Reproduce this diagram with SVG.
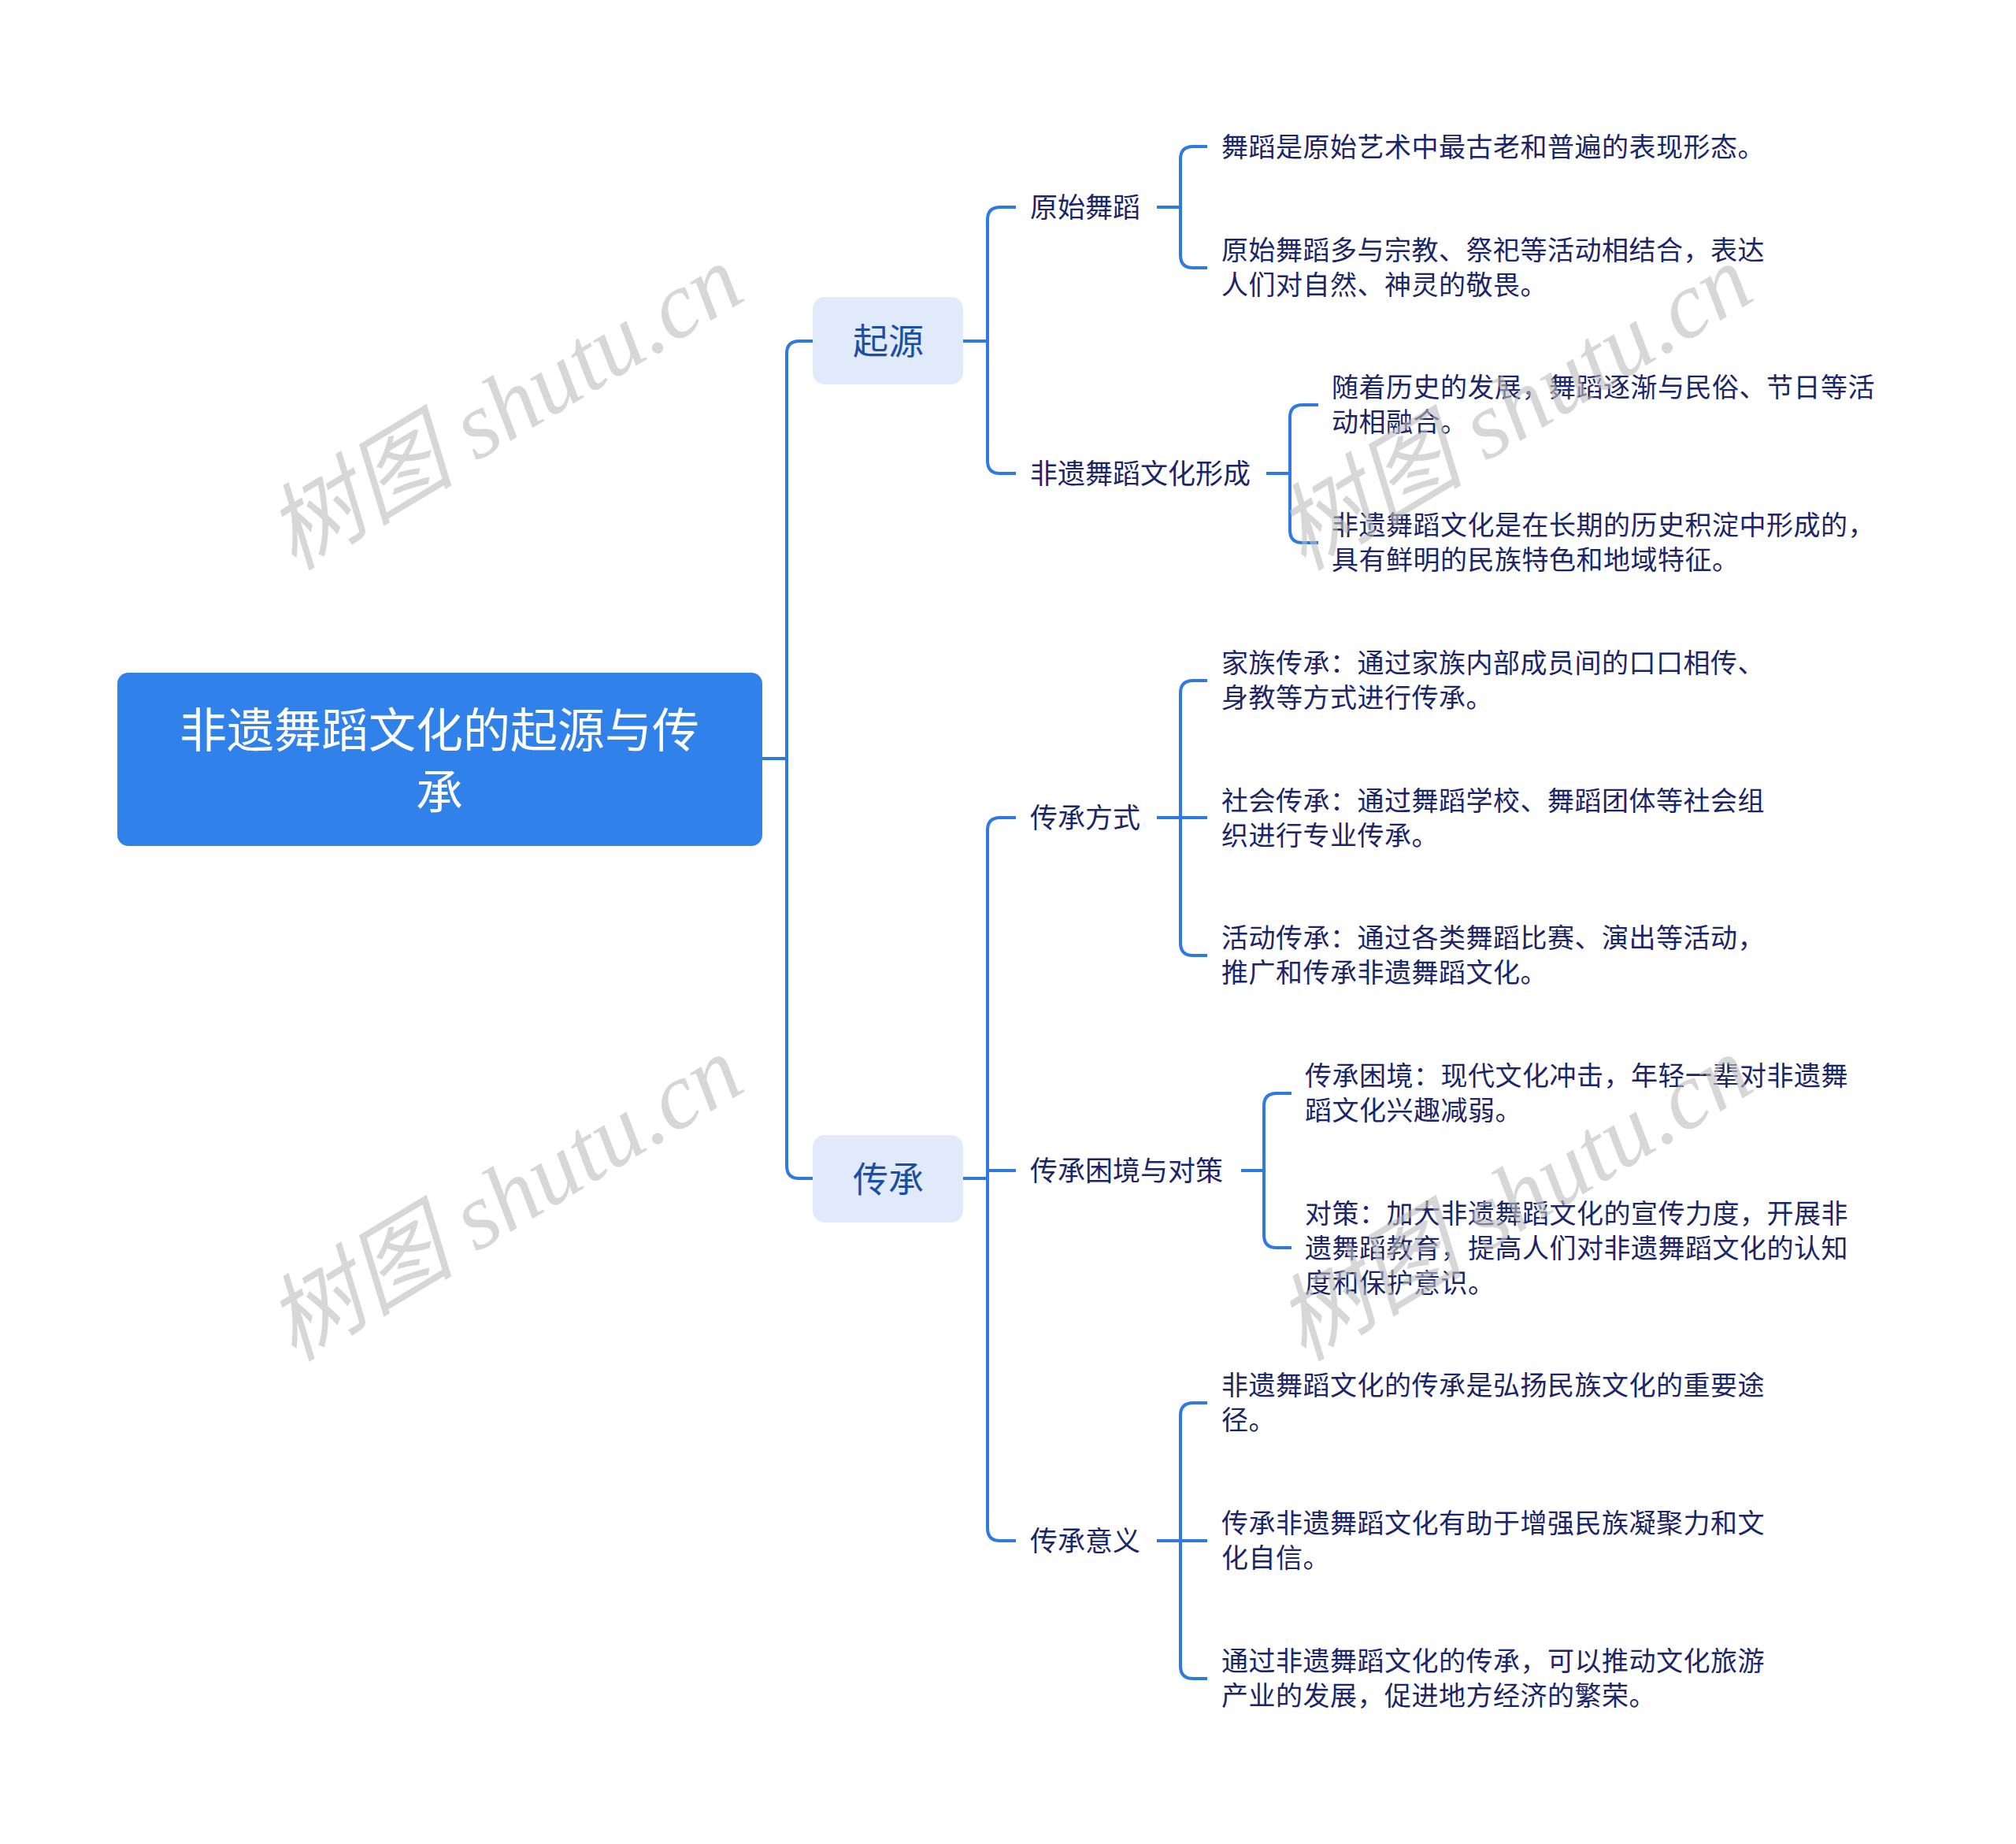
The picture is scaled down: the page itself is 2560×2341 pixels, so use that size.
<svg xmlns="http://www.w3.org/2000/svg" width="2560" height="2341" viewBox="0 0 2560 2341">
<style>
.bg{fill:#ffffff}
.root{fill:#3081ea}
.rt{fill:#ffffff;font-family:"Noto Sans CJK SC","Noto Sans",sans-serif;font-size:60px;text-anchor:middle}
.sub{fill:#e1eafb}
.st{fill:#1a4fa6;font-family:"Noto Sans CJK SC","Noto Sans",sans-serif;font-size:45px;text-anchor:middle}
.t2{fill:#1b2568;font-family:"Noto Sans CJK SC","Noto Sans",sans-serif;font-size:35px}
.t3{fill:#1b2568;font-family:"Noto Sans CJK SC","Noto Sans",sans-serif;font-size:34px;letter-spacing:0.5px}
.ln{fill:none;stroke:#2f7ae2;stroke-width:4;stroke-linecap:butt;stroke-linejoin:round}
.wm{fill:#bcbcbc;fill-opacity:0.6;font-family:"Liberation Serif","Noto Sans CJK SC",serif;font-style:italic;font-size:120px;text-anchor:middle}
</style>
<rect class="bg" x="0" y="0" width="2560" height="2341"/>

<g id="connectors">
  <path class="ln" d="M968 963 H999"/>
  <path class="ln" d="M1032 433 H1015 Q999 433 999 449 V1480 Q999 1496 1015 1496 H1032"/>
  <path class="ln" d="M1223 433 H1254"/>
  <path class="ln" d="M1290 263 H1270 Q1254 263 1254 279 V585 Q1254 601 1270 601 H1290"/>
  <path class="ln" d="M1469 263 H1499"/>
  <path class="ln" d="M1533 186 H1515 Q1499 186 1499 202 V324 Q1499 340 1515 340 H1533"/>
  <path class="ln" d="M1608 601 H1638"/>
  <path class="ln" d="M1674 514 H1654 Q1638 514 1638 530 V673 Q1638 689 1654 689 H1674"/>
  <path class="ln" d="M1223 1496 H1254"/>
  <path class="ln" d="M1290 1038 H1270 Q1254 1038 1254 1054 V1940 Q1254 1956 1270 1956 H1290"/>
  <path class="ln" d="M1254 1486 H1290"/>
  <path class="ln" d="M1469 1038 H1533"/>
  <path class="ln" d="M1533 864 H1515 Q1499 864 1499 880 V1197 Q1499 1213 1515 1213 H1533"/>
  <path class="ln" d="M1576 1486 H1605"/>
  <path class="ln" d="M1640 1388 H1621 Q1605 1388 1605 1404 V1568 Q1605 1584 1621 1584 H1640"/>
  <path class="ln" d="M1469 1956 H1533"/>
  <path class="ln" d="M1533 1781 H1515 Q1499 1781 1499 1797 V2115 Q1499 2131 1515 2131 H1533"/>
</g>

<g id="root">
  <rect class="root" x="149" y="854" width="819" height="220" rx="14"/>
  <text class="rt" x="558" y="949">非遗舞蹈文化的起源与传</text>
  <text class="rt" x="558" y="1027">承</text>
</g>

<g id="n-qiyuan">
  <rect class="sub" x="1032" y="377" width="191" height="111" rx="15"/>
  <text class="st" x="1128" y="450">起源</text>
</g>
<g id="n-chuancheng">
  <rect class="sub" x="1032" y="1441" width="191" height="111" rx="15"/>
  <text class="st" x="1128" y="1514">传承</text>
</g>

<g id="n-yuanshi"><text class="t2" x="1308" y="276">原始舞蹈</text></g>
<g id="n-xingcheng"><text class="t2" x="1308" y="614">非遗舞蹈文化形成</text></g>
<g id="n-fangshi"><text class="t2" x="1308" y="1051">传承方式</text></g>
<g id="n-kunjing"><text class="t2" x="1308" y="1499">传承困境与对策</text></g>
<g id="n-yiyi"><text class="t2" x="1308" y="1969">传承意义</text></g>

<g id="l1"><text class="t3" x="1551" y="199">舞蹈是原始艺术中最古老和普遍的表现形态。</text></g>
<g id="l2"><text class="t3" x="1551" y="330">原始舞蹈多与宗教、祭祀等活动相结合，表达</text><text class="t3" x="1551" y="374">人们对自然、神灵的敬畏。</text></g>
<g id="l3"><text class="t3" x="1691" y="504">随着历史的发展，舞蹈逐渐与民俗、节日等活</text><text class="t3" x="1691" y="548">动相融合。</text></g>
<g id="l4"><text class="t3" x="1691" y="679">非遗舞蹈文化是在长期的历史积淀中形成的，</text><text class="t3" x="1691" y="723">具有鲜明的民族特色和地域特征。</text></g>
<g id="l5"><text class="t3" x="1551" y="854">家族传承：通过家族内部成员间的口口相传、</text><text class="t3" x="1551" y="898">身教等方式进行传承。</text></g>
<g id="l6"><text class="t3" x="1551" y="1029">社会传承：通过舞蹈学校、舞蹈团体等社会组</text><text class="t3" x="1551" y="1073">织进行专业传承。</text></g>
<g id="l7"><text class="t3" x="1551" y="1203">活动传承：通过各类舞蹈比赛、演出等活动，</text><text class="t3" x="1551" y="1247">推广和传承非遗舞蹈文化。</text></g>
<g id="l8"><text class="t3" x="1657" y="1378">传承困境：现代文化冲击，年轻一辈对非遗舞</text><text class="t3" x="1657" y="1422">蹈文化兴趣减弱。</text></g>
<g id="l9"><text class="t3" x="1657" y="1553">对策：加大非遗舞蹈文化的宣传力度，开展非</text><text class="t3" x="1657" y="1597">遗舞蹈教育，提高人们对非遗舞蹈文化的认知</text><text class="t3" x="1657" y="1641">度和保护意识。</text></g>
<g id="l10"><text class="t3" x="1551" y="1771">非遗舞蹈文化的传承是弘扬民族文化的重要途</text><text class="t3" x="1551" y="1815">径。</text></g>
<g id="l11"><text class="t3" x="1551" y="1946">传承非遗舞蹈文化有助于增强民族凝聚力和文</text><text class="t3" x="1551" y="1990">化自信。</text></g>
<g id="l12"><text class="t3" x="1551" y="2121">通过非遗舞蹈文化的传承，可以推动文化旅游</text><text class="t3" x="1551" y="2165">产业的发展，促进地方经济的繁荣。</text></g>

<g id="watermark">
  <text class="wm" x="640" y="558" transform="rotate(-31 640 516)">树图 shutu.cn</text>
  <text class="wm" x="1922" y="558" transform="rotate(-31 1922 516)">树图 shutu.cn</text>
  <text class="wm" x="640" y="1562" transform="rotate(-31 640 1520)">树图 shutu.cn</text>
  <text class="wm" x="1922" y="1562" transform="rotate(-31 1922 1520)">树图 shutu.cn</text>
  <text class="wm" x="640" y="2566" transform="rotate(-31 640 2524)">树图 shutu.cn</text>
  <text class="wm" x="1922" y="2566" transform="rotate(-31 1922 2524)">树图 shutu.cn</text>
</g>
</svg>
